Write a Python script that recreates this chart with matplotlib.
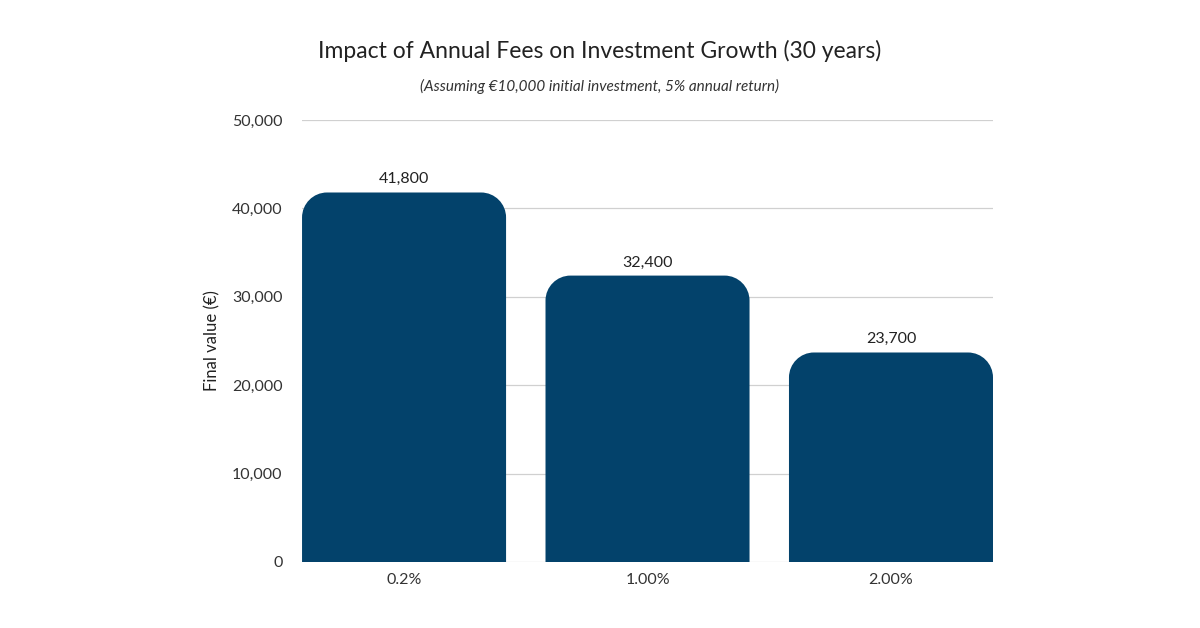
import matplotlib.pyplot as plt
from matplotlib.path import Path
from matplotlib.patches import PathPatch

plt.rcParams['font.family'] = ['Lato', 'DejaVu Sans']

fees = ['0.2%', '1.00%', '2.00%']
final_values = [41800, 32400, 23700]
value_labels = ['41,800', '32,400', '23,700']
y_ticks = [0, 10000, 20000, 30000, 40000, 50000]

fig = plt.figure(figsize=(12, 6.28), dpi=100)
ax = fig.add_axes([0.2517, 0.1051, 0.5758, 0.7038])

color = '#03426b'
width = 0.838
bars = ax.bar(range(len(fees)), final_values, width=width, color='none')
ax.set_xlim(-width / 2, len(fees) - 1 + width / 2)
ax.set_ylim(0, 50000)

# rounded top corners
rx = 25 / 243.5
ry = 25 / 442 * 50000
k = 0.5523
for b in bars:
    x0, x1, h = b.get_x(), b.get_x() + b.get_width(), b.get_height()
    verts = [(x0, 0), (x0, h - ry),
             (x0, h - ry + k * ry), (x0 + rx - k * rx, h), (x0 + rx, h),
             (x1 - rx, h),
             (x1 - rx + k * rx, h), (x1, h - ry + k * ry), (x1, h - ry),
             (x1, 0), (x0, 0)]
    codes = [Path.MOVETO, Path.LINETO,
             Path.CURVE4, Path.CURVE4, Path.CURVE4,
             Path.LINETO,
             Path.CURVE4, Path.CURVE4, Path.CURVE4,
             Path.LINETO, Path.CLOSEPOLY]
    ax.add_patch(PathPatch(Path(verts, codes), facecolor=color, edgecolor='none', zorder=3))
    ax.text(b.get_x() + b.get_width() / 2, h + 700, value_labels[bars.patches.index(b)],
            ha='center', va='bottom', fontsize=11.5, color='#222222')

ax.set_xticks(range(len(fees)))
ax.set_xticklabels(fees)
ax.set_yticks(y_ticks)
ax.set_yticklabels([f'{v:,}' for v in y_ticks])
ax.tick_params(length=0, labelsize=11.5, colors='#333333', pad=8)
ax.tick_params(axis='y', pad=14)
ax.grid(axis='y', color='#d0d0d0', linewidth=0.9, zorder=0)
ax.set_axisbelow(True)
for s in ax.spines.values():
    s.set_visible(False)
ax.set_ylabel('Final value (€)', fontsize=12, color='#222222', labelpad=8)

fig.text(0.5, 0.907, 'Impact of Annual Fees on Investment Growth (30 years)',
         ha='center', fontsize=16.5, color='#222222')
fig.text(0.5, 0.855, '(Assuming €10,000 initial investment, 5% annual return)',
         ha='center', fontsize=11, style='italic', color='#333333')

fig.savefig('out.png', dpi=100)
